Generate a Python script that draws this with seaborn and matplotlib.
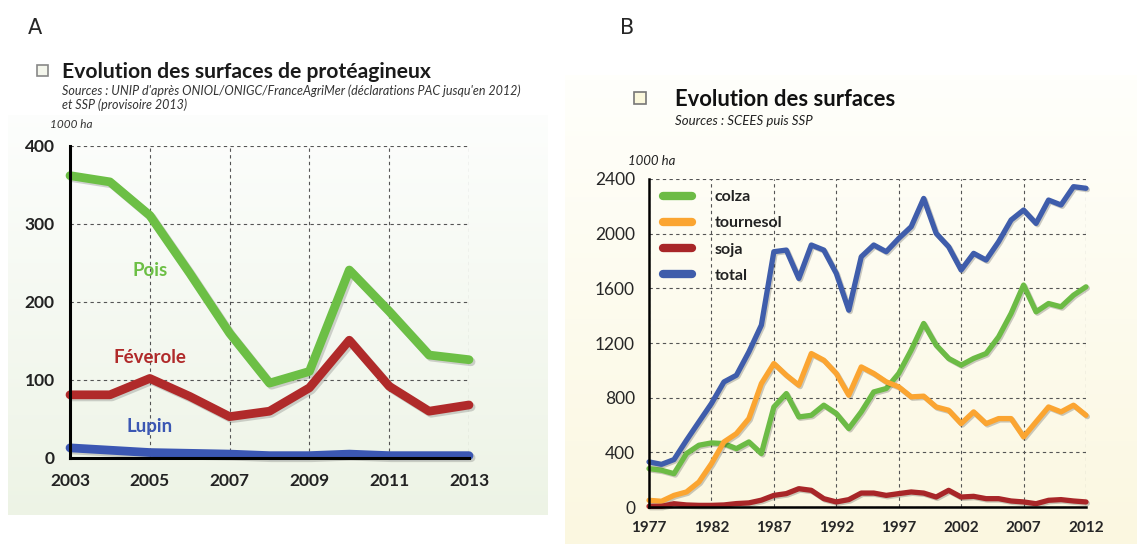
import numpy as np
import pandas as pd
import seaborn as sns
import matplotlib.pyplot as plt
import matplotlib.patheffects as pe
from matplotlib.lines import Line2D
from matplotlib.patches import Rectangle
from matplotlib.ticker import MultipleLocator, FixedLocator

# Panel A data (1000 ha)
years_a = list(range(2003, 2014))
pois = [362, 354, 311, 237, 160, 96, 111, 241, 188, 132, 126]
feverole = [81, 81, 102, 79, 53, 60, 90, 151, 92, 60, 68]
lupin = [13, 10, 7, 6, 5, 3, 3, 5, 3, 3, 3]
xticks_a = list(range(2003, 2014, 2))

# Panel B data (1000 ha)
years_b = list(range(1977, 2013))
colza = [281, 269, 244, 391, 452, 469, 464, 427, 476, 391, 732, 830, 659, 671, 745, 684,
         574, 696, 842, 867, 977, 1148, 1343, 1184, 1087, 1038, 1087, 1123, 1245, 1416,
         1624, 1428, 1489, 1465, 1550, 1611]
tournesol = [49, 42, 85, 110, 183, 317, 476, 537, 647, 903, 1050, 964, 891, 1123, 1074, 977,
             818, 1025, 977, 916, 879, 806, 811, 732, 708, 610, 696, 610, 647, 647,
             513, 623, 732, 696, 745, 671]
soja = [5, 5, 24, 15, 12, 12, 15, 25, 30, 50, 85, 98, 134, 122, 61, 37,
        54, 102, 102, 85, 98, 110, 102, 73, 122, 73, 78, 61, 61, 44,
        37, 24, 49, 54, 44, 37]
total = [330, 312, 347, 488, 623, 757, 915, 964, 1135, 1331, 1868, 1880, 1672, 1917, 1880, 1709,
         1440, 1831, 1917, 1868, 1965, 2051, 2258, 2002, 1904, 1734, 1856, 1807, 1941, 2100,
         2173, 2075, 2246, 2210, 2344, 2332]
xticks_b = list(range(1977, 2013, 5))

names_a = ['Pois', 'Féverole', 'Lupin']
colors_a = ['#6cbf45', '#b02a2a', '#3b57b3']
names_b = ['colza', 'tournesol', 'soja', 'total']
colors_b = ['#6cbb45', '#fba531', '#a82628', '#3f5dab']

df_a = pd.DataFrame({'annee': years_a * 3,
                     'surface': pois + feverole + lupin,
                     'culture': np.repeat(names_a, len(years_a))})
df_b = pd.DataFrame({'annee': years_b * 4,
                     'surface': colza + tournesol + soja + total,
                     'culture': np.repeat(names_b, len(years_b))})

sns.set_style('white')
plt.rcParams['font.family'] = ['Lato', 'DejaVu Sans']

W, H = 1137, 544
fig = plt.figure(figsize=(W / 100, H / 100), dpi=100)


def px(x, y):
    return x / W, 1 - y / H


# background panels (gradients)
bg = fig.add_axes([0, 0, 1, 1], zorder=-10)
bg.axis('off')
grad = np.linspace(0, 1, 100).reshape(-1, 1)
ga = np.array([[0.99, 0.995, 0.99]]) * (1 - grad) + np.array([[0.93, 0.955, 0.90]]) * grad
bg.imshow(ga[:, None, :], extent=[8, 548, 515, 115], aspect='auto', zorder=0)
gb = np.array([[1.0, 1.0, 0.985]]) * (1 - grad) + np.array([[0.985, 0.97, 0.88]]) * grad
bg.imshow(gb[:, None, :], extent=[565, W, H, 75], aspect='auto', zorder=0)
bg.set_xlim(0, W)
bg.set_ylim(H, 0)

shadow = [pe.SimpleLineShadow(offset=(1.5, -1.5), alpha=0.25, shadow_color='#555555'), pe.Normal()]
grid_kw = dict(color='#555555', linestyle=(0, (3, 3)), linewidth=0.8)

# ---------------- Panel A ----------------
ax = fig.add_axes([*px(70, 458), 399 / W, 312 / H])
ax.set_facecolor('none')
sns.lineplot(data=df_a, x='annee', y='surface', hue='culture', hue_order=names_a,
             palette=colors_a, linewidth=6.3, legend=False, ax=ax)
for ln in ax.lines:
    ln.set_clip_on(False)
    ln.set_solid_capstyle('round')
    ln.set_solid_joinstyle('round')
    ln.set_path_effects(shadow)
ax.set_xlim(2003, 2013)
ax.set_ylim(0, 400)
ax.xaxis.set_major_locator(FixedLocator(xticks_a))
ax.yaxis.set_major_locator(MultipleLocator(100))
ax.grid(True, **grid_kw)
ax.set_axisbelow(True)
for s in ['top', 'right']:
    ax.spines[s].set_visible(False)
for s in ['left', 'bottom']:
    ax.spines[s].set_color('black')
    ax.spines[s].set_linewidth(2.2)
ax.tick_params(axis='both', direction='out', length=7, width=2, color='black',
               labelsize=12.5, pad=4)
for t in ax.get_xticklabels() + ax.get_yticklabels():
    t.set_fontweight('bold')
    t.set_color('#222222')
ax.set_xlabel('')
ax.set_ylabel('')
for name, col, xx, yy in zip(names_a, colors_a, [2005, 2005, 2005], [240, 129, 40]):
    ax.text(xx, yy, name, color=col, fontsize=13.5, fontweight='bold', ha='center', va='center')

fig.text(*px(35, 28), 'A', fontsize=15, ha='center', va='center', family='DejaVu Sans')
bg.add_patch(Rectangle((37, 65), 11, 11, facecolor='#f4f6ec', edgecolor='#888888', lw=1.2))
fig.text(*px(62, 72), 'Evolution des surfaces de protéagineux', fontsize=15.2,
         fontweight='bold', ha='left', va='center', color='#1a1a1a')
fig.text(*px(62, 91), "Sources : UNIP d'après ONIOL/ONIGC/FranceAgriMer (déclarations PAC jusqu'en 2012)",
         fontsize=9, style='italic', ha='left', va='center', color='#333333')
fig.text(*px(62, 105), 'et SSP (provisoire 2013)', fontsize=9, style='italic',
         ha='left', va='center', color='#333333')
fig.text(*px(50, 124), '1000 ha', fontsize=8.5, style='italic', ha='left', va='center',
         color='#333333')

# ---------------- Panel B ----------------
bx = fig.add_axes([*px(649, 507), 437 / W, 328 / H])
bx.set_facecolor('none')
sns.lineplot(data=df_b, x='annee', y='surface', hue='culture', hue_order=names_b,
             palette=colors_b, linewidth=3.8, legend=False, ax=bx)
for ln in bx.lines:
    ln.set_clip_on(False)
    ln.set_solid_capstyle('round')
    ln.set_solid_joinstyle('round')
    ln.set_path_effects([pe.SimpleLineShadow(offset=(1, -1), alpha=0.2), pe.Normal()])
bx.set_xlim(1977, 2012)
bx.set_ylim(0, 2400)
bx.xaxis.set_major_locator(FixedLocator(xticks_b))
bx.xaxis.set_minor_locator(MultipleLocator(1))
bx.yaxis.set_major_locator(MultipleLocator(400))
bx.grid(True, which='major', **grid_kw)
bx.set_axisbelow(True)
for s in ['top', 'right']:
    bx.spines[s].set_visible(False)
for s in ['left', 'bottom']:
    bx.spines[s].set_color('black')
    bx.spines[s].set_linewidth(1.8)
bx.tick_params(axis='both', which='major', direction='out', length=7, width=1.8,
               color='black', pad=3)
bx.tick_params(axis='x', which='minor', direction='out', length=7, width=1,
               color='#999999')
bx.tick_params(axis='y', labelsize=12.5)
bx.tick_params(axis='x', labelsize=11)
for t in bx.get_xticklabels():
    t.set_fontweight('bold')
bx.set_xlabel('')
bx.set_ylabel('')
handles = [Line2D([0], [0], color=c, linewidth=6, solid_capstyle='round') for c in colors_b]
leg = bx.legend(handles, names_b, loc='upper left', bbox_to_anchor=(0.0, 1.01),
                frameon=False, handlelength=1.8, handletextpad=1.4, labelspacing=0.75,
                prop={'size': 11.5, 'weight': 'bold'})
for t in leg.get_texts():
    t.set_color('#222222')

fig.text(*px(627, 28), 'B', fontsize=15, ha='center', va='center', family='DejaVu Sans')
bg.add_patch(Rectangle((634, 92), 12, 12, facecolor='#fbf8dc', edgecolor='#777777', lw=1.2))
fig.text(*px(675, 99), 'Evolution des surfaces', fontsize=15.8, fontweight='bold',
         ha='left', va='center', color='#111111')
fig.text(*px(675, 121), 'Sources : SCEES puis SSP', fontsize=9.5, style='italic',
         ha='left', va='center', color='#222222')
fig.text(*px(628, 161), '1000 ha', fontsize=9.5, style='italic', ha='left', va='center',
         color='#222222')

fig.savefig('out.png', dpi=100)
